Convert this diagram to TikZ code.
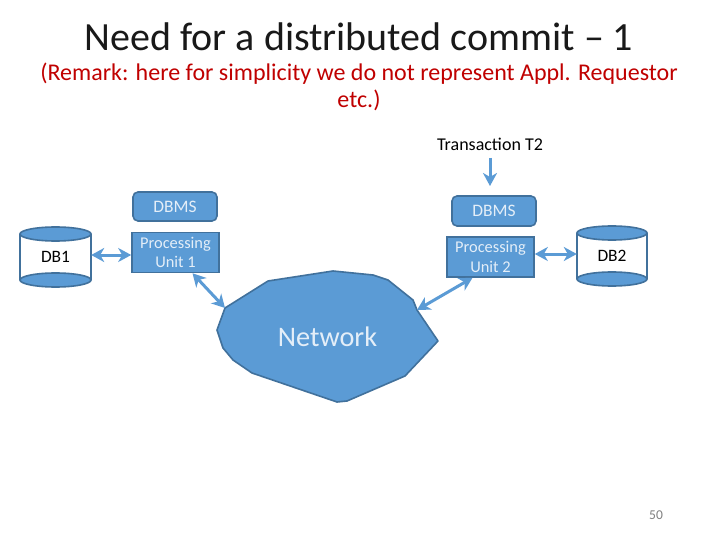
\documentclass[tikz,border=0pt]{standalone}
\usepackage{fontspec}
\setmainfont{Carlito}
\usetikzlibrary{arrows.meta}
\definecolor{fillblue}{HTML}{5B9BD5}
\definecolor{edgeblue}{HTML}{41719C}
\definecolor{softwhite}{HTML}{E4EEF8}
\definecolor{titlered}{HTML}{C00000}
\definecolor{pagegray}{HTML}{7F7F7F}
\tikzset{
  box/.style={draw=edgeblue,fill=fillblue,line width=1.6pt,text=softwhite,align=center,inner sep=0pt,font=\fontsize{16.4}{19.5}\selectfont},
  roundbox/.style={box,rounded corners=5pt,font=\fontsize{17.5}{19}\selectfont},
  dbbody/.style={inner sep=0pt,font=\fontsize{17.4}{20}\selectfont,text=black},
  dbside/.style={draw=edgeblue,line width=1.6pt},
  dbcap/.style={draw=edgeblue,fill=fillblue,line width=1.6pt},
  link/.style={draw=fillblue,line width=3pt,{Stealth[length=13pt,width=14pt,inset=4pt]}-{Stealth[length=13pt,width=14pt,inset=4pt]}},
  inlink/.style={draw=fillblue,line width=3pt,-{Stealth[length=13pt,width=14pt,inset=4pt]}},
  net/.style={draw=edgeblue,fill=fillblue,line width=1.6pt,line join=round}
}
\begin{document}
\begin{tikzpicture}[x=1pt,y=-1pt]
\useasboundingbox (0,0) rectangle (720,540);
\fill[white] (0,0) rectangle (720,540);
\node[font=\fontsize{40}{44}\selectfont,text=black!90] (title) at (359,37) {Need for a distributed commit -- 1};
\node[font=\fontsize{24}{27}\selectfont,text=titlered,align=center] (remark) at (359,86.5) {(Remark: here for simplicity we do not represent Appl. Requestor\\etc.)};
\node[font=\fontsize{18}{20}\selectfont,text=black] (t2) at (490,144) {Transaction T2};
\node[font=\fontsize{13.5}{16}\selectfont,text=pagegray] (page) at (656,515) {50};
% Network
\coordinate (netA) at (225,308);
\coordinate (netB) at (417,310);
\draw[net] (netA) -- (268,281) -- (333,271) -- (373,275) -- (388,280) -- (413,300) -- (netB) -- (438,341) -- (405,376) -- (347,401) -- (337,402) -- (252,373) -- (233,360) -- (223,348) -- (217,330) -- cycle;
\node[font=\fontsize{28.3}{32}\selectfont,text=softwhite] (network) at (327.5,337) {Network};
% Site 1
\node[roundbox,minimum width=84pt,minimum height=29pt] (dbms1) at (175,206.5) {DBMS};
\node[box,minimum width=87pt,minimum height=40pt] (pu1) at (175.5,252.5) {Processing\\Unit 1};
\node[dbbody,minimum width=71pt,minimum height=60pt] (db1) at (55.5,257) {DB1};
\draw[dbside] (20,234) -- (20,280) (91,234) -- (91,280);
\draw[dbcap] (55.5,234) ellipse [x radius=35.5,y radius=7];
\draw[dbcap] (55.5,280) ellipse [x radius=35.5,y radius=7];
% Site 2
\node[roundbox,minimum width=84pt,minimum height=30pt] (dbms2) at (494,211) {DBMS};
\node[box,minimum width=87pt,minimum height=40pt] (pu2) at (490.5,257) {Processing\\Unit 2};
\node[dbbody,minimum width=70pt,minimum height=60pt] (db2) at (612,256) {DB2};
\draw[dbside] (577,233) -- (577,279) (647,233) -- (647,279);
\draw[dbcap] (612,233) ellipse [x radius=35,y radius=7];
\draw[dbcap] (612,279) ellipse [x radius=35,y radius=7];
% Connectors
\draw[link] ([yshift=2pt]db1.east) -- ([yshift=-2.5pt]pu1.west);
\draw[link] ([xshift=17pt]pu1.south) -- (netA);
\draw[link] ([xshift=-18pt]pu2.south) -- (netB);
\draw[link] ([yshift=3pt]pu2.east) -- ([yshift=2pt]db2.west);
\draw[inlink] (t2.south)++(0,4) -- (490,186);
\end{tikzpicture}
\end{document}
